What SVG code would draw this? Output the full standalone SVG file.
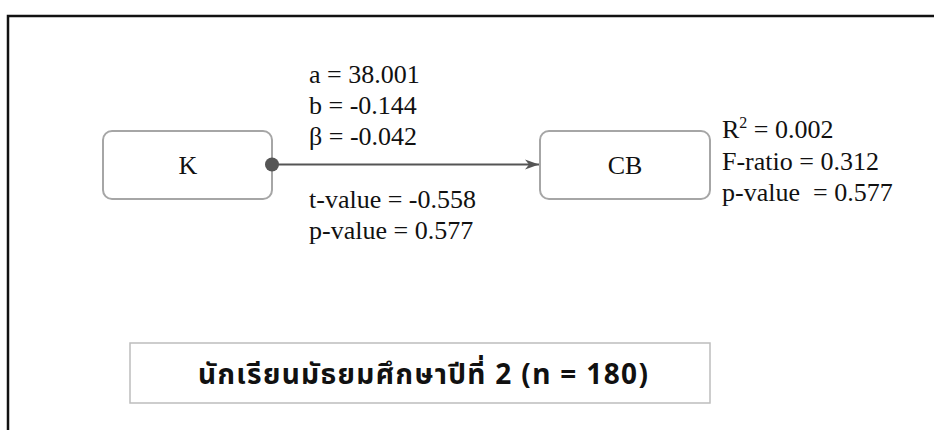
<svg xmlns="http://www.w3.org/2000/svg" width="934" height="430" viewBox="0 0 934 430">
<style>
.node{fill:#fff;stroke:#a6a6a6;stroke-width:2}
.lbl{font-family:"Liberation Serif","DejaVu Serif",serif;font-size:26px;fill:#111}
.ctr{text-anchor:middle}
.thai{font-family:"Noto Sans","Noto Sans Thai","DejaVu Sans",sans-serif;font-size:28px;font-weight:bold;fill:#111;text-anchor:middle}
</style>
<defs>
<marker id="arr" markerWidth="16" markerHeight="12" refX="14" refY="6" orient="auto" markerUnits="userSpaceOnUse">
<path d="M0,1 L14,6 L0,11 L4,6 Z" fill="#555"/>
</marker>
</defs>
<rect width="934" height="430" fill="#fff"/>
<path d="M8,430 V16 H934" fill="none" stroke="#111" stroke-width="2.5"/>
<g id="node-K">
<rect class="node" x="103" y="131" width="169" height="68" rx="9"/>
<text class="lbl ctr" x="188" y="174">K</text>
</g>
<g id="node-CB">
<rect class="node" x="540" y="131" width="170" height="68" rx="9"/>
<text class="lbl ctr" x="625" y="174">CB</text>
</g>
<g id="connectors">
<line x1="272" y1="164.5" x2="539" y2="164.5" stroke="#555" stroke-width="2" marker-end="url(#arr)"/>
<circle cx="272" cy="164.5" r="7" fill="#555"/>
</g>
<g id="path-stats">
<text class="lbl" x="309" y="83">a = 38.001</text>
<text class="lbl" x="309" y="114">b = -0.144</text>
<text class="lbl" x="309" y="145">β = -0.042</text>
<text class="lbl" x="309" y="208">t-value = -0.558</text>
<text class="lbl" x="309" y="239">p-value = 0.577</text>
</g>
<g id="model-stats">
<text class="lbl" x="722" y="138">R<tspan font-size="16" dy="-10">2</tspan><tspan dy="10"> = 0.002</tspan></text>
<text class="lbl" x="722" y="170">F-ratio = 0.312</text>
<text class="lbl" x="722" y="201" style="white-space:pre">p-value  = 0.577</text>
</g>
<g id="caption">
<rect x="130" y="343" width="580" height="60" fill="#fff" stroke="#bdbdbd" stroke-width="1.5"/>
<text class="thai" x="423" y="384" textLength="450" lengthAdjust="spacing">นักเรียนมัธยมศึกษาปีที่ 2 (n = 180)</text>
</g>
</svg>
